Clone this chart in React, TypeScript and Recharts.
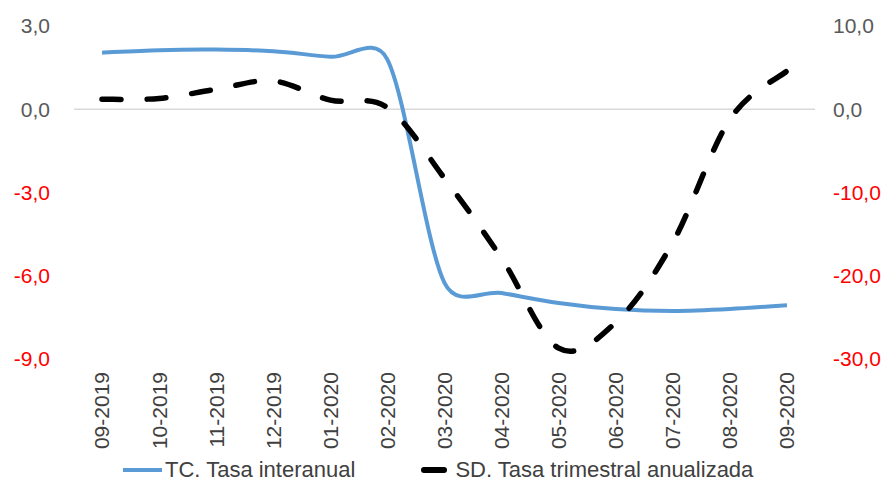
import React from "react";
import {
  LineChart,
  Line,
  XAxis,
  YAxis,
  ReferenceLine,
  Legend,
} from "recharts";

const FONT = '"Liberation Sans", Arial, sans-serif';

const months = [
  "09-2019",
  "10-2019",
  "11-2019",
  "12-2019",
  "01-2020",
  "02-2020",
  "03-2020",
  "04-2020",
  "05-2020",
  "06-2020",
  "07-2020",
  "08-2020",
  "09-2020",
];
const tcInteranual = [
  2.04, 2.13, 2.15, 2.09, 1.89, 1.79, -6.26, -6.62, -6.98, -7.2, -7.27, -7.2,
  -7.06,
];
const sdTrimestral = [
  1.2, 1.3, 2.4, 3.4, 1.1, 0.2, -8.3, -17.9, -28.7, -25.6, -16.0, -1.2, 4.6,
];
const leftTicks = [-9, -6, -3, 0, 3];
const rightTicks = [-30, -20, -10, 0, 10];
const legendOrder = ["tc", "sd"];

const data = months.map((m, i) => ({
  month: m,
  tc: tcInteranual[i],
  sd: sdTrimestral[i],
}));

const fmt = (v: number) => v.toFixed(1).replace(".", ",");

// smoothed line the way the spreadsheet draws it: catmull-rom arms (1/6),
// clamped to half the segment length
const excelCurve = (context: any) => {
  let pts: number[][] = [];
  const dist = (a: number[], b: number[]) => Math.hypot(b[0] - a[0], b[1] - a[1]);
  return {
    areaStart() {},
    areaEnd() {},
    lineStart() {
      pts = [];
    },
    point(x: number, y: number) {
      pts.push([+x, +y]);
    },
    lineEnd() {
      const n = pts.length;
      if (!n) return;
      context.moveTo(pts[0][0], pts[0][1]);
      for (let i = 0; i < n - 1; i++) {
        const p0 = pts[Math.max(i - 1, 0)];
        const p1 = pts[i];
        const p2 = pts[i + 1];
        const p3 = pts[Math.min(i + 2, n - 1)];
        const d12 = dist(p1, p2);
        const d02 = dist(p0, p2);
        const d13 = dist(p1, p3);
        const f1 = d02 > 0 ? Math.min(1 / 6, d12 / (2 * d02)) : 0;
        const f2 = d13 > 0 ? Math.min(1 / 6, d12 / (2 * d13)) : 0;
        context.bezierCurveTo(
          p1[0] + f1 * (p2[0] - p0[0]),
          p1[1] + f1 * (p2[1] - p0[1]),
          p2[0] - f2 * (p3[0] - p1[0]),
          p2[1] - f2 * (p3[1] - p1[1]),
          p2[0],
          p2[1]
        );
      }
    },
  };
};

const YTick = ({ x, y, payload, anchor }: any) => {
  const v = payload.value as number;
  return (
    <text
      x={x}
      y={y}
      dy="0.355em"
      textAnchor={anchor}
      fill={v < 0 ? "#FF0000" : "#595959"}
      fontSize={21}
      fontFamily={FONT}
    >
      {fmt(v)}
    </text>
  );
};

const XTick = ({ x, y, payload }: any) => (
  <text
    x={x}
    y={y}
    dy="0.355em"
    transform={`rotate(-90, ${x}, ${y})`}
    textAnchor="end"
    fill="#404040"
    fontSize={21}
    fontFamily={FONT}
  >
    {payload.value}
  </text>
);

const renderLegend = ({ payload }: any) => {
  const items = [...(payload || [])].sort(
    (a: any, b: any) => legendOrder.indexOf(a.dataKey) - legendOrder.indexOf(b.dataKey)
  );
  return (
    <div
      style={{
        display: "flex",
        alignItems: "center",
        fontFamily: FONT,
        fontSize: 22,
        color: "#404040",
        whiteSpace: "nowrap",
      }}
    >
      {items.map((entry: any, i: number) => {
        const dashed = !!entry.payload?.strokeDasharray;
        return (
          <div
            key={`leg-${i}`}
            style={{ display: "flex", alignItems: "center", marginRight: i === 0 ? 53 : 0 }}
          >
            <svg width={39} height={12}>
              {dashed ? (
                <line x1={16} y1={6} x2={36} y2={6} stroke={entry.color} strokeWidth={6} strokeLinecap="round" />
              ) : (
                <line x1={0} y1={6} x2={39} y2={6} stroke={entry.color} strokeWidth={4} />
              )}
            </svg>
            <span style={{ marginLeft: dashed ? 8 : 3 }}>{entry.value}</span>
          </div>
        );
      })}
    </div>
  );
};

export default function App() {
  return (
    <div style={{ position: "absolute", left: 0, top: 0, fontFamily: FONT }}>
      <LineChart
        width={886}
        height={483}
        data={data}
        margin={{ top: 26, right: 0, bottom: 14, left: 0 }}
      >
        <XAxis
          dataKey="month"
          interval={0}
          padding={{ left: 28, right: 28 }}
          axisLine={false}
          tickLine={false}
          tickSize={0}
          tickMargin={13}
          height={110}
          tick={<XTick />}
        />
        <YAxis
          yAxisId="left"
          domain={[-9, 3]}
          ticks={leftTicks}
          width={74}
          axisLine={false}
          tickLine={false}
          tickSize={0}
          tickMargin={24}
          tick={(p: any) => <YTick {...p} anchor="end" />}
        />
        <YAxis
          yAxisId="right"
          orientation="right"
          domain={[-30, 10]}
          ticks={rightTicks}
          width={71}
          axisLine={false}
          tickLine={false}
          tickSize={0}
          tickMargin={18}
          tick={(p: any) => <YTick {...p} anchor="start" />}
        />
        <ReferenceLine yAxisId="left" y={0} stroke="#D9D9D9" strokeWidth={1.3} />
        <Line
          yAxisId="left"
          dataKey="tc"
          name="TC. Tasa interanual"
          type={excelCurve as any}
          stroke="#5B9BD5"
          strokeWidth={4}
          dot={false}
          activeDot={false}
          isAnimationActive={false}
        />
        <Line
          yAxisId="right"
          dataKey="sd"
          name="SD. Tasa trimestral anualizada"
          type={excelCurve as any}
          stroke="#000000"
          strokeWidth={5.5}
          strokeDasharray="19 26"
          strokeLinecap="round"
          dot={false}
          activeDot={false}
          isAnimationActive={false}
        />
        <Legend
          layout="horizontal"
          verticalAlign="middle"
          align="center"
          content={renderLegend}
          wrapperStyle={{ top: 457, left: 123, width: 720 }}
        />
      </LineChart>
    </div>
  );
}
